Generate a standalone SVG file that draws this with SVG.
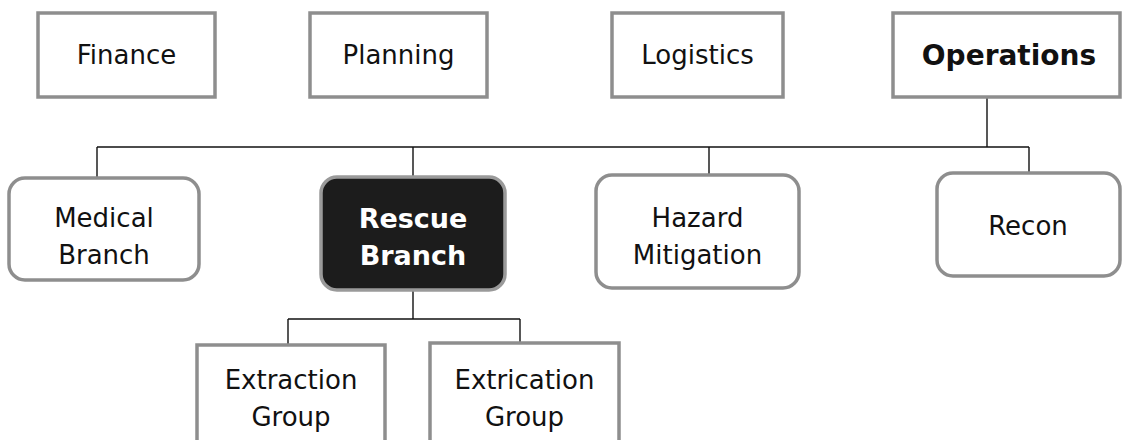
<svg xmlns="http://www.w3.org/2000/svg" width="1122" height="440" viewBox="0 0 1122 440">
  <style>
    .box { fill: #ffffff; stroke: #8e8e8e; stroke-width: 3.5; }
    .dark { fill: #1c1c1c; stroke: #9a9a9a; stroke-width: 3.5; }
    .lbl { font-family: "DejaVu Sans", Verdana, sans-serif; font-size: 26px; fill: #111; text-anchor: middle; dominant-baseline: central; }
    .bold { font-weight: bold; font-size: 28px; }
    .inv { fill: #ffffff; font-weight: bold; font-size: 27px; }
    .conn { stroke: #111; stroke-width: 1.4; fill: none; }
  </style>
  <rect width="1122" height="440" fill="#ffffff"/>

  <!-- connectors -->
  <g id="connectors" class="conn">
    <path d="M987 97 V147"/>
    <path d="M97 147 H1029"/>
    <path d="M97 147 V178"/>
    <path d="M413 147 V177"/>
    <path d="M709 147 V175"/>
    <path d="M1029 147 V173"/>
    <path d="M413 290 V319"/>
    <path d="M288 319 H520"/>
    <path d="M288 319 V345"/>
    <path d="M520 319 V343"/>
  </g>

  <!-- top row -->
  <g id="finance">
    <rect class="box" x="38" y="13" width="177" height="84"/>
    <text class="lbl" x="126.5" y="55">Finance</text>
  </g>
  <g id="planning">
    <rect class="box" x="310" y="13" width="177" height="84"/>
    <text class="lbl" x="398.5" y="55">Planning</text>
  </g>
  <g id="logistics">
    <rect class="box" x="612" y="13" width="171" height="84"/>
    <text class="lbl" x="697.5" y="55">Logistics</text>
  </g>
  <g id="operations">
    <rect class="box" x="893" y="13" width="227" height="84"/>
    <text class="lbl bold" x="1009" y="55">Operations</text>
  </g>

  <!-- branches -->
  <g id="medical-branch">
    <rect class="box" x="9" y="178" width="190" height="102" rx="16"/>
    <text class="lbl" x="104" y="218">Medical</text>
    <text class="lbl" x="104" y="255">Branch</text>
  </g>
  <g id="rescue-branch">
    <rect class="dark" x="321" y="177" width="184" height="113" rx="16"/>
    <text class="lbl inv" x="413" y="218">Rescue</text>
    <text class="lbl inv" x="413" y="255">Branch</text>
  </g>
  <g id="hazard-mitigation">
    <rect class="box" x="596" y="175" width="203" height="113" rx="16"/>
    <text class="lbl" x="697.5" y="218">Hazard</text>
    <text class="lbl" x="697.5" y="255">Mitigation</text>
  </g>
  <g id="recon">
    <rect class="box" x="937" y="173" width="183" height="103" rx="16"/>
    <text class="lbl" x="1028" y="226">Recon</text>
  </g>

  <!-- groups under the rescue branch -->
  <g id="extraction-group">
    <rect class="box" x="197" y="345" width="188" height="110"/>
    <text class="lbl" x="291" y="380">Extraction</text>
    <text class="lbl" x="291" y="417">Group</text>
  </g>
  <g id="extrication-group">
    <rect class="box" x="430" y="343" width="189" height="112"/>
    <text class="lbl" x="524.5" y="380">Extrication</text>
    <text class="lbl" x="524.5" y="417">Group</text>
  </g>
</svg>
